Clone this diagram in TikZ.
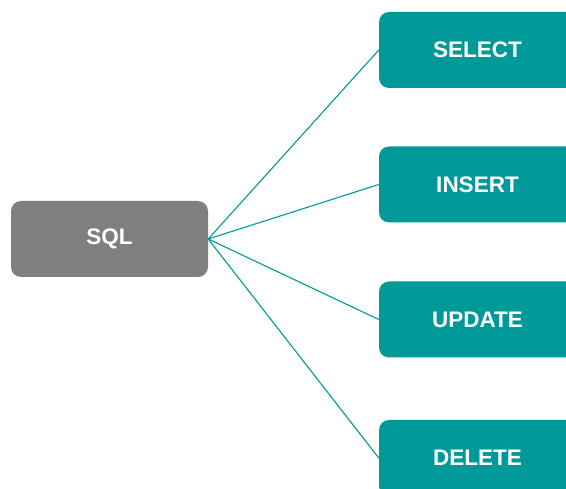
\documentclass[tikz,border=0pt]{standalone}
\usepackage{fontspec}
\setmainfont{Liberation Sans}
\definecolor{teal}{HTML}{009999}
\definecolor{boxgray}{HTML}{7F7F7F}
\begin{document}
\begin{tikzpicture}[x=1pt,y=-1pt,
  box/.style={rounded corners=10pt, minimum width=197pt, minimum height=76pt,
    inner sep=0pt, text=white, font=\fontsize{22.5}{26}\selectfont\bfseries},
  root/.style={box, fill=boxgray},
  leaf/.style={box, fill=teal},
  link/.style={draw=teal, line width=1.1pt}]
\useasboundingbox (0,0) rectangle (566,489);
\clip (0,0) rectangle (566,489);
\node[root] (sql) at (109.5,239) {SQL};
\node[leaf] (select) at (477.5,50) {SELECT};
\node[leaf] (insert) at (477.5,184.5) {INSERT};
\node[leaf] (update) at (477.5,319.5) {UPDATE};
\node[leaf] (delete) at (477.5,458) {DELETE};
\foreach \t in {select,insert,update,delete}
  \draw[link] (sql.east) -- (\t.west);
\end{tikzpicture}
\end{document}
